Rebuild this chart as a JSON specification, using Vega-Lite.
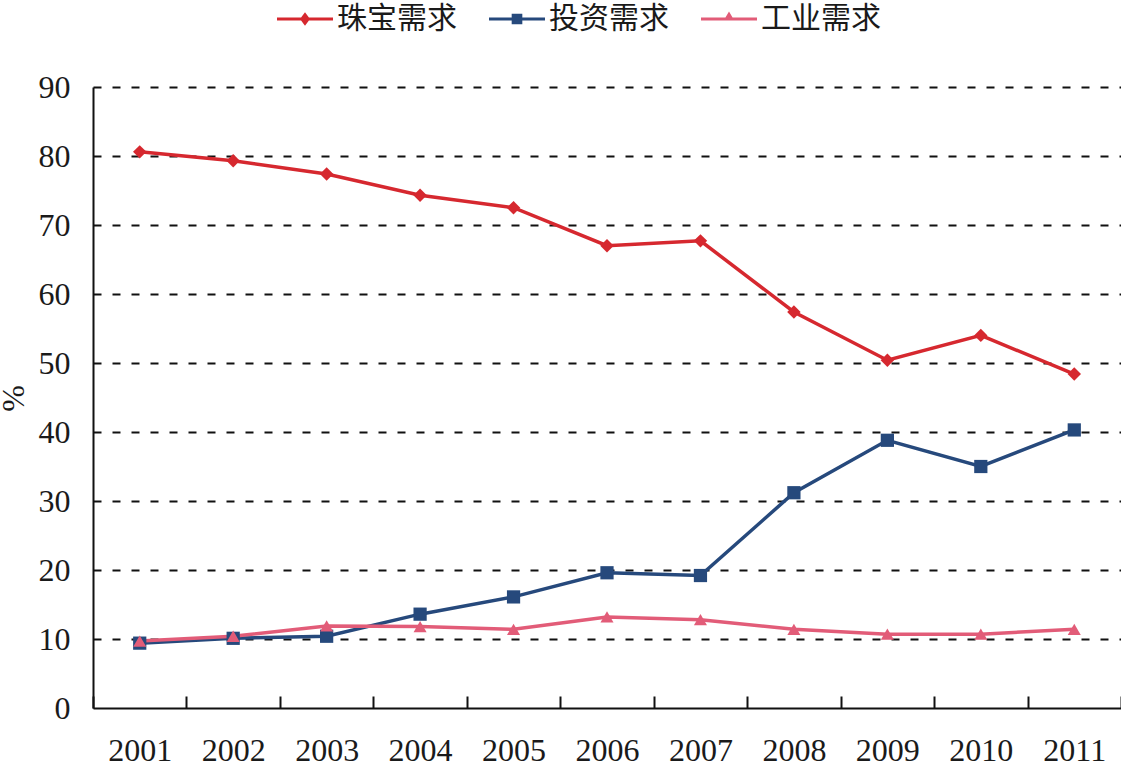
{
  "$schema": "https://vega.github.io/schema/vega-lite/v6.json",
  "width": 1028,
  "height": 621,
  "autosize": {"type": "none"},
  "padding": {"left": 93, "top": 87, "right": 0, "bottom": 57},
  "background": "white",
  "config": {
    "font": "Liberation Serif, Noto Sans CJK SC",
    "view": {"stroke": null},
    "axis": {
      "labelFont": "Liberation Serif",
      "labelFontSize": 32,
      "labelColor": "#1a1a1a",
      "domainColor": "#111111",
      "domainWidth": 2,
      "tickColor": "#111111",
      "tickWidth": 2
    }
  },
  "data": {
    "values": [
      {"year": "2001", "type": "珠宝需求", "value": 80.6},
      {"year": "2002", "type": "珠宝需求", "value": 79.3},
      {"year": "2003", "type": "珠宝需求", "value": 77.4},
      {"year": "2004", "type": "珠宝需求", "value": 74.3},
      {"year": "2005", "type": "珠宝需求", "value": 72.5},
      {"year": "2006", "type": "珠宝需求", "value": 67.0},
      {"year": "2007", "type": "珠宝需求", "value": 67.7},
      {"year": "2008", "type": "珠宝需求", "value": 57.4},
      {"year": "2009", "type": "珠宝需求", "value": 50.4},
      {"year": "2010", "type": "珠宝需求", "value": 54.0},
      {"year": "2011", "type": "珠宝需求", "value": 48.4},
      {"year": "2001", "type": "投资需求", "value": 9.4},
      {"year": "2002", "type": "投资需求", "value": 10.1},
      {"year": "2003", "type": "投资需求", "value": 10.4},
      {"year": "2004", "type": "投资需求", "value": 13.6},
      {"year": "2005", "type": "投资需求", "value": 16.1},
      {"year": "2006", "type": "投资需求", "value": 19.6},
      {"year": "2007", "type": "投资需求", "value": 19.2},
      {"year": "2008", "type": "投资需求", "value": 31.2},
      {"year": "2009", "type": "投资需求", "value": 38.8},
      {"year": "2010", "type": "投资需求", "value": 35.0},
      {"year": "2011", "type": "投资需求", "value": 40.3},
      {"year": "2001", "type": "工业需求", "value": 9.7},
      {"year": "2002", "type": "工业需求", "value": 10.4},
      {"year": "2003", "type": "工业需求", "value": 11.9},
      {"year": "2004", "type": "工业需求", "value": 11.8},
      {"year": "2005", "type": "工业需求", "value": 11.4},
      {"year": "2006", "type": "工业需求", "value": 13.2},
      {"year": "2007", "type": "工业需求", "value": 12.8},
      {"year": "2008", "type": "工业需求", "value": 11.4},
      {"year": "2009", "type": "工业需求", "value": 10.7},
      {"year": "2010", "type": "工业需求", "value": 10.7},
      {"year": "2011", "type": "工业需求", "value": 11.4}
    ]
  },
  "encoding": {
    "x": {
      "field": "year",
      "type": "ordinal",
      "scale": {"type": "band", "paddingInner": 0, "paddingOuter": 0},
      "axis": {
        "title": null,
        "labelAngle": 0,
        "tickBand": "extent",
        "tickSize": -12,
        "labelPadding": 64,
        "labelBaseline": "alphabetic",
        "grid": false
      }
    },
    "y": {
      "field": "value",
      "type": "quantitative",
      "scale": {"domain": [0, 90], "nice": false},
      "axis": {
        "title": "%",
        "titleFont": "Liberation Serif",
        "titleFontSize": 32,
        "titleFontWeight": "normal",
        "titleColor": "#1a1a1a",
        "titleX": -80,
        "titleY": 311,
        "titleAngle": 270,
        "titleAlign": "center",
        "titleBaseline": "middle",
        "values": [0, 10, 20, 30, 40, 50, 60, 70, 80, 90],
        "ticks": false,
        "labelPadding": 23,
        "grid": true,
        "gridColor": "#111111",
        "gridWidth": 2.2,
        "gridDash": [8, 11],
        "gridOpacity": {"expr": "datum.value === 0 ? 0 : 1"}
      }
    }
  },
  "layer": [
    {
      "mark": {"type": "line", "strokeWidth": 3.5},
      "encoding": {
        "color": {
          "field": "type",
          "type": "nominal",
          "sort": ["珠宝需求", "投资需求", "工业需求"],
          "scale": {
            "domain": ["珠宝需求", "投资需求", "工业需求"],
            "range": ["#d6282f", "#26497c", "#e25c78"]
          },
          "legend": {
            "title": null,
            "orient": "none",
            "direction": "horizontal",
            "legendX": 184,
            "legendY": -96,
            "padding": 0,
            "symbolSize": 3136,
            "labelFont": "Noto Sans CJK SC",
            "labelFontSize": 30,
            "labelColor": "#1a1a1a",
            "labelOffset": 4,
            "columnPadding": 32,
            "encode": {
              "symbols": {
                "update": {
                  "shape": {"signal": "datum.value === '珠宝需求' ? 'M-1,-0.054H1V0.054H-1Z M0,-0.24L0.18,0L0,0.24L-0.18,0Z' : datum.value === '投资需求' ? 'M-1,-0.054H1V0.054H-1Z M-0.19,-0.19H0.19V0.19H-0.19Z' : 'M-1,-0.054H1V0.054H-1Z M0,-0.27L0.19,0.054H-0.19Z'"},
                  "fill": {"signal": "datum.value === '珠宝需求' ? '#d6282f' : datum.value === '投资需求' ? '#26497c' : '#e25c78'"},
                  "fillOpacity": {"value": 1},
                  "stroke": {"value": "transparent"},
                  "strokeWidth": {"value": 0},
                  "size": {"value": 3136}
                }
              }
            }
          }
        }
      }
    },
    {
      "mark": {"type": "point", "filled": true, "opacity": 1},
      "encoding": {
        "color": {
          "field": "type",
          "type": "nominal",
          "scale": {
            "domain": ["珠宝需求", "投资需求", "工业需求"],
            "range": ["#d6282f", "#26497c", "#e25c78"]
          },
          "legend": null
        },
        "shape": {
          "field": "type",
          "type": "nominal",
          "scale": {
            "domain": ["珠宝需求", "投资需求", "工业需求"],
            "range": ["diamond", "square", "triangle-up"]
          },
          "legend": null
        },
        "size": {
          "field": "type",
          "type": "nominal",
          "scale": {
            "domain": ["珠宝需求", "投资需求", "工业需求"],
            "range": [180, 170, 200]
          },
          "legend": null
        }
      }
    }
  ],
  "resolve": {"scale": {"color": "independent"}}
}
